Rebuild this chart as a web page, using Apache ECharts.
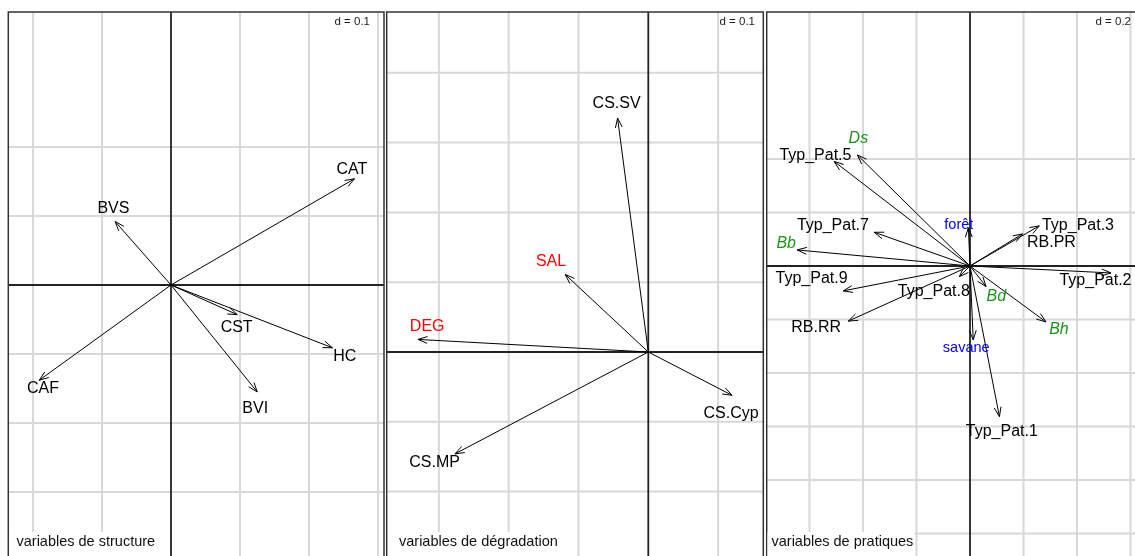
<!DOCTYPE html>
<html>
<head>
<meta charset="utf-8">
<script src="https://cdn.jsdelivr.net/npm/echarts@6/dist/echarts.min.js"></script>
<style>
html,body{margin:0;padding:0;background:#fff;}
#chart{width:1135px;height:556px;}
</style>
</head>
<body>
<div id="chart"></div>
<script>
// ---------------- DATA ----------------
// Panel 1 : variables de structure
const structNames = ['CAT', 'BVS', 'CST', 'HC', 'BVI', 'CAF'];
const structX = [0.266, -0.081, 0.096, 0.234, 0.125, -0.191];
const structY = [0.154, 0.092, -0.043, -0.091, -0.155, -0.138];

// Panel 2 : variables de dégradation
const degCsNames = ['CS.SV', 'CS.Cyp', 'CS.MP'];
const degCsX = [-0.044, 0.120, -0.277];
const degCsY = [0.335, -0.062, -0.146];
const degRedNames = ['SAL', 'DEG'];
const degRedX = [-0.119, -0.330];
const degRedY = [0.111, 0.018];

// Panel 3 : variables de pratiques
const pratNames = ['Typ_Pat.5', 'Typ_Pat.7', 'Typ_Pat.9', 'RB.RR', 'Typ_Pat.8', 'Typ_Pat.1', 'Typ_Pat.2', 'Typ_Pat.3', 'RB.PR'];
const pratX = [-0.508, -0.358, -0.474, -0.455, -0.040, 0.110, 0.527, 0.259, 0.196];
const pratY = [0.391, 0.126, -0.093, -0.206, -0.040, -0.563, -0.026, 0.150, 0.120];
const especeNames = ['Ds', 'Bb', 'Bd', 'Bh'];
const especeX = [-0.421, -0.646, 0.060, 0.284];
const especeY = [0.415, 0.060, -0.077, -0.209];
const milieuNames = ['forêt', 'savane'];
const milieuX = [-0.006, 0.012];
const milieuY = [0.143, -0.276];

// grid (tick) values per panel
const gridX1 = [-0.2, -0.1, 0.1, 0.2, 0.3];
const gridY1 = [0.2, 0.1, -0.1, -0.2, -0.3, -0.4];
const gridX2 = [-0.3, -0.2, -0.1, 0.1];
const gridY2 = [0.4, 0.3, 0.2, 0.1, -0.1, -0.2, -0.3];
const gridX3 = [-0.6, -0.4, -0.2, 0.2, 0.4, 0.6];
const gridY3 = [0.4, 0.2, -0.2, -0.4, -0.6, -0.8, -1.0];

const panelTitles = ['variables de structure', 'variables de dégradation', 'variables de pratiques'];
const gridSteps = ['d = 0.1', 'd = 0.1', 'd = 0.2'];

// ---------------- LAYOUT / STYLE ----------------
const FONT = '"Liberation Sans", Arial, Helvetica, sans-serif';
const panels = [
  {left: 8.3, top: 12, width: 375.7, height: 544, ox: 171, oy: 285, ppu: 690, rightBorder: true},
  {left: 386.7, top: 12, width: 376.6, height: 544, ox: 648.3, oy: 352, ppu: 698, rightBorder: true},
  {left: 766.7, top: 12, width: 368.3, height: 544, ox: 970, oy: 266, ppu: 267.5, rightBorder: false}
];
// label nudges (pixels) from arrow tips
const nudge = {
  'CAT': [-2.6, -9.1], 'BVS': [-1.7, -13.3], 'CST': [-0.6, 12.5], 'HC': [12.3, 8.9], 'BVI': [-2, 16.9], 'CAF': [3.7, 8.5],
  'CS.SV': [-1, -14.4], 'SAL': [-14.2, -13.3], 'DEG': [9.2, -12.5], 'CS.Cyp': [-1, 18.6], 'CS.MP': [-20.3, 9],
  'Ds': [1, -16.7], 'Typ_Pat.5': [-18.7, -6.3], 'Typ_Pat.7': [-41.3, -6.3], 'Bb': [-11, -6.9], 'Typ_Pat.9': [-31.6, -12.3],
  'RB.RR': [-32.1, 6.1], 'Typ_Pat.8': [-25.5, 15.1], 'forêt': [-9.6, -2.5], 'savane': [-7, 7.8], 'Bd': [10.3, 9.8],
  'Bh': [13, 7.8], 'Typ_Pat.1': [2.4, 15.1], 'Typ_Pat.2': [-15.5, 8], 'Typ_Pat.3': [38.7, 0.2], 'RB.PR': [29, 9.1]
};

const grids = [], xAxes = [], yAxes = [];
panels.forEach((p, i) => {
  grids.push({left: p.left, top: p.top, width: p.width, height: p.height, show: false});
  const ax = {type: 'value', gridIndex: i, show: false, splitLine: {show: false}};
  xAxes.push(Object.assign({}, ax, {min: (p.left - p.ox) / p.ppu, max: (p.left + p.width - p.ox) / p.ppu}));
  yAxes.push(Object.assign({}, ax, {min: (p.oy - (p.top + p.height)) / p.ppu, max: (p.oy - p.top) / p.ppu}));
});

function lineSeries(idx, values, vertical, color, width, z) {
  return {
    type: 'custom', xAxisIndex: idx, yAxisIndex: idx, z: z, silent: true,
    data: values.map(v => vertical ? [v, 0] : [0, v]),
    renderItem: function (params, api) {
      const cs = params.coordSys;
      const pt = api.coord([api.value(0), api.value(1)]);
      const shape = vertical
        ? {x1: pt[0], y1: cs.y, x2: pt[0], y2: cs.y + cs.height + 5}
        : {x1: cs.x, y1: pt[1], x2: cs.x + cs.width, y2: pt[1]};
      return {type: 'line', shape: shape, style: {stroke: color, lineWidth: width}};
    }
  };
}

function borderSeries(idx, withRight) {
  return {
    type: 'custom', xAxisIndex: idx, yAxisIndex: idx, z: 3, silent: true, clip: false,
    data: [[0, 0]],
    renderItem: function (params, api) {
      const cs = params.coordSys;
      const pts = [[cs.x, cs.y + cs.height + 5], [cs.x, cs.y], [cs.x + cs.width, cs.y]];
      if (withRight) pts.push([cs.x + cs.width, cs.y + cs.height + 5]);
      return {type: 'polyline', shape: {points: pts}, style: {stroke: '#333', lineWidth: 1.5, fill: null}};
    }
  };
}

function arrowSeries(idx, names, xs, ys, textColor, font) {
  return {
    type: 'custom', xAxisIndex: idx, yAxisIndex: idx, z: 5, silent: true, clip: false,
    data: names.map((n, i) => [xs[i], ys[i]]),
    renderItem: function (params, api) {
      const name = names[params.dataIndex];
      const o = api.coord([0, 0]);
      const p = api.coord([api.value(0), api.value(1)]);
      const ang = Math.atan2(p[1] - o[1], p[0] - o[0]);
      const L = 10, a = 20 * Math.PI / 180;
      const h1 = [p[0] - L * Math.cos(ang - a), p[1] - L * Math.sin(ang - a)];
      const h2 = [p[0] - L * Math.cos(ang + a), p[1] - L * Math.sin(ang + a)];
      const nd = nudge[name] || [0, 0];
      return {
        type: 'group', children: [
          {type: 'line', shape: {x1: o[0], y1: o[1], x2: p[0], y2: p[1]}, style: {stroke: '#000', lineWidth: 1}},
          {type: 'polyline', shape: {points: [h1, p, h2]}, style: {stroke: '#000', lineWidth: 1, fill: null}},
          {type: 'text', x: p[0] + nd[0], y: p[1] + nd[1], z2: 10,
            style: {text: name, fill: textColor, font: font, align: 'center', verticalAlign: 'middle'}}
        ]
      };
    }
  };
}

const series = [];
const gx = [gridX1, gridX2, gridX3], gy = [gridY1, gridY2, gridY3];
for (let i = 0; i < 3; i++) {
  series.push(lineSeries(i, gx[i], true, '#d8d8d8', 2, 1));
  series.push(lineSeries(i, gy[i], false, '#d8d8d8', 2, 1));
  series.push(lineSeries(i, [0], true, '#222', 1.8, 2));
  series.push(lineSeries(i, [0], false, '#222', 1.8, 2));
  series.push(borderSeries(i, panels[i].rightBorder));
}
const BLACKFONT = '16px ' + FONT;
series.push(arrowSeries(0, structNames, structX, structY, '#000', BLACKFONT));
series.push(arrowSeries(1, degCsNames, degCsX, degCsY, '#000', BLACKFONT));
series.push(arrowSeries(1, degRedNames, degRedX, degRedY, '#ff0000', BLACKFONT));
series.push(arrowSeries(2, pratNames, pratX, pratY, '#000', BLACKFONT));
series.push(arrowSeries(2, especeNames, especeX, especeY, '#1a931a', 'italic 16px ' + FONT));
series.push(arrowSeries(2, milieuNames, milieuX, milieuY, '#0000ff', '14.5px ' + FONT));

const titles = [];
const titleLeft = [9.5, 388, 767.5];
const titlePadLeft = [7, 11, 4];
const stepRight = [1135 - 370, 1135 - 755, 1135 - 1131];
for (let i = 0; i < 3; i++) {
  titles.push({text: panelTitles[i], left: titleLeft[i], top: 532,
    backgroundColor: '#fff', padding: [1, 1, 30, titlePadLeft[i]], z: 10,
    textStyle: {fontFamily: FONT, fontSize: 14.5, fontWeight: 'normal', color: '#111', lineHeight: 17}});
  titles.push({text: gridSteps[i], right: stepRight[i], top: 16, padding: 0, z: 10,
    textStyle: {fontFamily: FONT, fontSize: 11.5, fontWeight: 'normal', color: '#222', lineHeight: 12}});
}

const chart = echarts.init(document.getElementById('chart'), null, {renderer: 'canvas'});
chart.setOption({
  animation: false,
  backgroundColor: '#fff',
  title: titles,
  grid: grids,
  xAxis: xAxes,
  yAxis: yAxes,
  series: series
});
</script>
</body>
</html>
